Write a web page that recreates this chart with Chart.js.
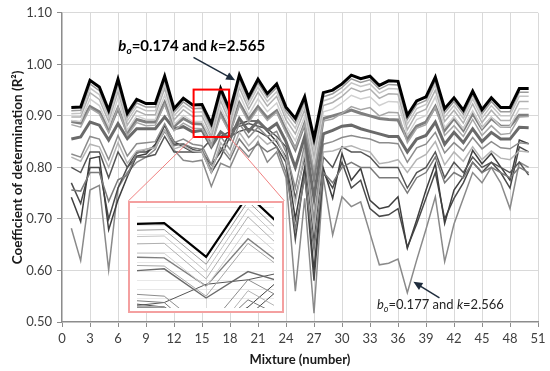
<!DOCTYPE html>
<html><head><meta charset="utf-8">
<script src="https://cdn.jsdelivr.net/npm/chart.js@4.4.0/dist/chart.umd.min.js"></script>
<style>
html,body{margin:0;padding:0;background:#fff;}
#wrap{position:relative;width:550px;height:371px;overflow:hidden;}
#main{position:absolute;left:0;top:0;}
#insetBox{position:absolute;background:#fff;}
#insetBox canvas{position:absolute;left:0;top:0;}
</style></head><body>
<div id="wrap"><canvas id="main" width="550" height="371"></canvas><div id="insetBox"><canvas id="inset"></canvas></div></div>
<script>
// ---------- DATA ----------
const mixtures = [1,2,3,4,5,6,7,8,9,10,11,12,13,14,15,16,17,18,19,20,21,22,23,24,25,26,27,28,29,30,31,32,33,34,35,36,37,38,39,40,41,42,43,44,45,46,47,48,49,50];
const xTicks = [0,3,6,9,12,15,18,21,24,27,30,33,36,39,42,45,48,51];
const yTicks = [0.50,0.60,0.70,0.80,0.90,1.00,1.10];

const best = [0.916,0.917,0.969,0.956,0.911,0.971,0.905,0.932,0.924,0.924,0.977,0.914,0.934,0.921,0.922,0.885,0.953,0.910,0.979,0.937,0.971,0.943,0.962,0.917,0.895,0.937,0.856,0.945,0.950,0.962,0.979,0.972,0.977,0.959,0.968,0.967,0.901,0.929,0.937,0.975,0.914,0.935,0.911,0.948,0.912,0.935,0.916,0.916,0.953,0.953];
const s1 = [0.910,0.911,0.962,0.949,0.904,0.964,0.898,0.925,0.917,0.917,0.970,0.907,0.927,0.914,0.915,0.877,0.946,0.902,0.972,0.930,0.964,0.936,0.955,0.909,0.886,0.929,0.846,0.937,0.943,0.955,0.972,0.965,0.970,0.952,0.961,0.960,0.893,0.922,0.930,0.968,0.906,0.928,0.903,0.941,0.904,0.928,0.908,0.908,0.946,0.946];
const s2 = [0.904,0.905,0.954,0.941,0.897,0.956,0.890,0.918,0.910,0.910,0.962,0.900,0.920,0.907,0.908,0.869,0.938,0.894,0.964,0.922,0.956,0.928,0.947,0.901,0.876,0.921,0.835,0.929,0.935,0.947,0.964,0.957,0.962,0.944,0.953,0.952,0.884,0.914,0.922,0.960,0.898,0.920,0.895,0.933,0.896,0.920,0.900,0.900,0.938,0.938];
const s3 = [0.898,0.898,0.945,0.932,0.889,0.947,0.882,0.910,0.902,0.902,0.953,0.892,0.912,0.899,0.900,0.861,0.929,0.886,0.955,0.913,0.946,0.919,0.938,0.892,0.865,0.912,0.822,0.920,0.926,0.938,0.954,0.947,0.952,0.934,0.943,0.942,0.873,0.905,0.913,0.950,0.889,0.911,0.886,0.923,0.887,0.911,0.891,0.891,0.928,0.928];
const s4 = [0.891,0.889,0.933,0.920,0.879,0.934,0.872,0.900,0.893,0.893,0.940,0.883,0.901,0.889,0.889,0.852,0.917,0.877,0.942,0.902,0.933,0.908,0.925,0.881,0.852,0.900,0.810,0.908,0.913,0.925,0.940,0.933,0.937,0.920,0.928,0.927,0.862,0.893,0.901,0.937,0.877,0.898,0.875,0.910,0.876,0.898,0.879,0.880,0.914,0.914];
const s5 = [0.883,0.878,0.915,0.904,0.867,0.917,0.862,0.887,0.881,0.882,0.922,0.871,0.886,0.876,0.875,0.842,0.900,0.866,0.922,0.887,0.914,0.891,0.907,0.867,0.838,0.884,0.795,0.890,0.894,0.905,0.918,0.912,0.916,0.900,0.907,0.906,0.848,0.876,0.883,0.917,0.862,0.881,0.860,0.893,0.862,0.881,0.864,0.866,0.898,0.899];
const thickD = [0.889,0.886,0.918,0.908,0.872,0.915,0.868,0.893,0.888,0.888,0.926,0.880,0.895,0.885,0.884,0.853,0.905,0.870,0.925,0.893,0.918,0.896,0.910,0.872,0.835,0.885,0.780,0.895,0.900,0.905,0.911,0.905,0.900,0.895,0.893,0.892,0.855,0.880,0.888,0.918,0.872,0.895,0.872,0.905,0.875,0.895,0.880,0.880,0.901,0.901];
const thickE = [0.855,0.859,0.888,0.882,0.853,0.885,0.856,0.875,0.875,0.875,0.898,0.875,0.879,0.869,0.872,0.840,0.869,0.855,0.895,0.870,0.890,0.872,0.885,0.850,0.800,0.860,0.740,0.865,0.872,0.880,0.882,0.875,0.870,0.865,0.860,0.860,0.830,0.855,0.862,0.888,0.845,0.868,0.848,0.875,0.850,0.868,0.855,0.855,0.878,0.877];
const s6 = [0.826,0.820,0.860,0.855,0.815,0.862,0.822,0.846,0.848,0.850,0.885,0.848,0.855,0.845,0.842,0.805,0.860,0.835,0.885,0.858,0.878,0.860,0.870,0.830,0.760,0.845,0.700,0.845,0.850,0.858,0.862,0.858,0.855,0.848,0.848,0.846,0.810,0.838,0.845,0.868,0.828,0.848,0.832,0.858,0.836,0.850,0.838,0.836,0.848,0.846];
const s7 = [0.820,0.812,0.845,0.840,0.800,0.848,0.808,0.832,0.835,0.838,0.872,0.836,0.842,0.832,0.830,0.790,0.848,0.822,0.868,0.842,0.862,0.845,0.855,0.815,0.730,0.830,0.680,0.830,0.832,0.838,0.842,0.835,0.830,0.807,0.810,0.815,0.790,0.815,0.825,0.850,0.805,0.830,0.812,0.840,0.815,0.832,0.818,0.815,0.832,0.830];
const low1 = [0.756,0.754,0.790,0.790,0.734,0.776,0.785,0.827,0.835,0.840,0.872,0.842,0.846,0.838,0.835,0.795,0.838,0.815,0.855,0.832,0.845,0.830,0.840,0.790,0.680,0.780,0.640,0.790,0.770,0.800,0.810,0.800,0.800,0.780,0.780,0.780,0.750,0.780,0.790,0.820,0.770,0.790,0.780,0.810,0.790,0.800,0.790,0.780,0.800,0.790];
const low2 = [0.742,0.695,0.817,0.821,0.679,0.737,0.782,0.822,0.826,0.845,0.882,0.850,0.840,0.830,0.830,0.805,0.830,0.870,0.885,0.890,0.890,0.870,0.850,0.820,0.700,0.800,0.600,0.798,0.740,0.827,0.775,0.798,0.736,0.720,0.724,0.743,0.643,0.698,0.756,0.807,0.691,0.756,0.782,0.833,0.807,0.827,0.801,0.775,0.853,0.846];
const low3 = [0.682,0.619,0.756,0.765,0.601,0.760,0.790,0.810,0.820,0.835,0.882,0.834,0.814,0.811,0.814,0.763,0.808,0.800,0.840,0.820,0.850,0.810,0.830,0.780,0.560,0.740,0.517,0.780,0.669,0.743,0.724,0.733,0.672,0.611,0.614,0.622,0.557,0.620,0.680,0.743,0.617,0.690,0.740,0.790,0.770,0.800,0.770,0.720,0.810,0.800];
const low4 = [0.800,0.790,0.830,0.830,0.780,0.830,0.800,0.820,0.820,0.825,0.860,0.830,0.830,0.830,0.835,0.855,0.860,0.870,0.880,0.885,0.880,0.875,0.860,0.840,0.740,0.820,0.660,0.820,0.800,0.840,0.830,0.830,0.820,0.800,0.800,0.800,0.760,0.790,0.800,0.830,0.780,0.810,0.790,0.820,0.800,0.810,0.800,0.790,0.810,0.785];
const low5 = [0.770,0.730,0.800,0.800,0.700,0.760,0.800,0.830,0.830,0.840,0.870,0.845,0.845,0.835,0.830,0.790,0.820,0.860,0.870,0.875,0.870,0.860,0.840,0.810,0.660,0.790,0.580,0.790,0.760,0.810,0.760,0.775,0.720,0.705,0.708,0.720,0.645,0.690,0.740,0.790,0.700,0.740,0.770,0.810,0.790,0.810,0.790,0.760,0.840,0.830];

// ---------- STYLES ----------
const seriesList = [
  {v: best,   c:'#000000', w:3,   iw:2.2},
  {v: s1,     c:'#9a9a9a', w:1.5, iw:1},
  {v: s2,     c:'#c4c4c4', w:1.5, iw:1},
  {v: s3,     c:'#b0b0b0', w:1.5, iw:1},
  {v: s4,     c:'#d0d0d0', w:1.5, iw:1},
  {v: s5,     c:'#a6a6a6', w:1.5, iw:1},
  {v: thickD, c:'#7f7f7f', w:3,   iw:1.4},
  {v: thickE, c:'#6a6a6a', w:3,   iw:1.4},
  {v: s6,     c:'#8c8c8c', w:1.5, iw:1},
  {v: s7,     c:'#b4b4b4', w:1.5, iw:1},
  {v: low1,   c:'#7a7a7a', w:1.5, iw:1},
  {v: low4,   c:'#555555', w:1.5, iw:1},
  {v: low2,   c:'#3f3f3f', w:1.5, iw:1},
  {v: low5,   c:'#4a4a4a', w:1.5, iw:1},
  {v: low3,   c:'#8a8a8a', w:1.5, iw:1}
];

function mkDatasets(inset){
  return seriesList.map(s => ({
    data: s.v.map((y,i)=>({x:mixtures[i], y:y})),
    borderColor: s.c, borderWidth: inset ? s.iw : s.w,
    pointRadius: 0, tension: 0, fill:false
  }));
}

function drawArrow(ctx,x1,y1,x2,y2,col){
  const a = Math.atan2(y2-y1,x2-x1), L=9, W=4;
  ctx.save();
  ctx.strokeStyle=col; ctx.fillStyle=col; ctx.lineWidth=1.5;
  ctx.beginPath(); ctx.moveTo(x1,y1); ctx.lineTo(x2-Math.cos(a)*L*0.8,y2-Math.sin(a)*L*0.8); ctx.stroke();
  ctx.beginPath(); ctx.moveTo(x2,y2);
  ctx.lineTo(x2-L*Math.cos(a)+W*Math.sin(a), y2-L*Math.sin(a)-W*Math.cos(a));
  ctx.lineTo(x2-L*Math.cos(a)-W*Math.sin(a), y2-L*Math.sin(a)+W*Math.cos(a));
  ctx.closePath(); ctx.fill();
  ctx.restore();
}

function drawLabel(ctx,cx,cy,parts,color){
  ctx.save();
  ctx.fillStyle=color; ctx.textBaseline='alphabetic';
  let total=0;
  parts.forEach(p=>{ctx.font=p.f; total+=ctx.measureText(p.t).width;});
  let x=cx-total/2;
  parts.forEach(p=>{ctx.font=p.f; ctx.fillText(p.t,x,cy+(p.dy||0)); x+=ctx.measureText(p.t).width;});
  ctx.restore();
}

// annotation anchors (data coordinates)
const boxX = [14.1, 17.9], boxY = [0.951, 0.859];
const insetX = [7.1, 23.83], insetY = [0.7348, 0.518];

const annotPlugin = {
  id:'annot',
  afterDraw(chart){
    const ctx=chart.ctx, X=chart.scales.x, Y=chart.scales.y;
    const px=v=>X.getPixelForValue(v), py=v=>Y.getPixelForValue(v);
    ctx.save();
    ctx.strokeStyle='#ff0000'; ctx.lineWidth=2;
    ctx.strokeRect(px(boxX[0]),py(boxY[0]),px(boxX[1])-px(boxX[0]),py(boxY[1])-py(boxY[0]));
    ctx.strokeStyle='#f08080'; ctx.lineWidth=1;
    ctx.beginPath();
    ctx.moveTo(px(boxX[0]),py(boxY[1])); ctx.lineTo(px(insetX[0]),py(insetY[0]));
    ctx.moveTo(px(boxX[1]),py(boxY[1])); ctx.lineTo(px(insetX[1]),py(insetY[0]));
    ctx.stroke();
    ctx.restore();
    const B='bold 15px Lato', BI='italic bold 15px Lato', BS='bold 10px Lato';
    drawLabel(ctx,px(13.9),py(1.0348)+5,[{t:'b',f:BI},{t:'o',f:'italic '+BS,dy:3},{t:'=0.174 and ',f:B},{t:'k',f:BI},{t:'=2.565',f:B}],'#000');
    drawArrow(ctx,px(14.09),py(1.0135),px(18.55),py(0.969),'#1f2d3d');
    const N='13px Lato', NI='italic 13px Lato', NS='italic 9px Lato';
    drawLabel(ctx,px(40.54),py(0.535)+5,[{t:'b',f:NI},{t:'o',f:NS,dy:3},{t:'=0.177 and ',f:N},{t:'k',f:NI},{t:'=2.566',f:N}],'#262626');
    drawArrow(ctx,px(40.44),py(0.547),px(37.65),py(0.578),'#1f2d3d');
  }
};

const main = new Chart(document.getElementById('main'),{
  type:'line',
  data:{datasets: mkDatasets(false)},
  plugins:[annotPlugin],
  options:{
    responsive:false, animation:false,
    layout:{padding:{top:12,right:12,left:0,bottom:0}},
    plugins:{legend:{display:false},tooltip:{enabled:false}},
    scales:{
      x:{type:'linear',min:0,max:51,
        afterBuildTicks(s){s.ticks=xTicks.map(v=>({value:v}));},
        afterFit(s){s.height=49;},
        grid:{color:'#d9d9d9',tickColor:'#8c8c8c',tickLength:5},
        border:{color:'#8c8c8c',width:1.3},
        ticks:{color:'#404040',font:{family:'Lato',size:13},padding:4,maxRotation:0},
        title:{display:true,text:'Mixture (number)',color:'#1a1a1a',font:{family:'Lato',size:13,weight:'bold'},padding:{top:0,bottom:3}}
      },
      y:{type:'linear',min:0.5,max:1.1,
        afterBuildTicks(s){s.ticks=yTicks.map(v=>({value:v}));},
        afterFit(s){s.width=62;},
        grid:{color:'#d9d9d9',tickColor:'#8c8c8c',tickLength:5},
        border:{color:'#8c8c8c',width:1.3},
        ticks:{color:'#404040',font:{family:'Lato',size:13},padding:5,callback:v=>Number(v).toFixed(2)},
        title:{display:true,text:'Coefficient of determination (R²)',color:'#1a1a1a',font:{family:'Lato',size:13.5,weight:'bold'},padding:{top:10,bottom:0}}
      }
    }
  }
});

// ---------- INSET ----------
const X=main.scales.x, Y=main.scales.y;
const L=Math.round(X.getPixelForValue(insetX[0])), R=Math.round(X.getPixelForValue(insetX[1]));
const T=Math.round(Y.getPixelForValue(insetY[0])), Bt=Math.round(Y.getPixelForValue(insetY[1]));
const box=document.getElementById('insetBox');
box.style.left=L+'px'; box.style.top=T+'px'; box.style.width=(R-L)+'px'; box.style.height=(Bt-T)+'px';
const ic=document.getElementById('inset'); ic.width=R-L; ic.height=Bt-T;

const insetGridY=[0.84,0.85,0.86,0.87,0.88,0.89,0.90,0.91,0.92,0.93,0.94];
const insetGridX=[16];
const insetPlugin={
  id:'insetDeco',
  beforeDatasetsDraw(chart){
    const ctx=chart.ctx, a=chart.chartArea, xs=chart.scales.x, ys=chart.scales.y;
    ctx.save(); ctx.strokeStyle='#e8e8e8'; ctx.lineWidth=1;
    insetGridY.forEach(v=>{const y=Math.round(ys.getPixelForValue(v))+0.5; ctx.beginPath(); ctx.moveTo(a.left,y); ctx.lineTo(a.right,y); ctx.stroke();});
    ctx.strokeStyle='#dcdcdc';
    insetGridX.forEach(v=>{const x=Math.round(xs.getPixelForValue(v))+0.5; ctx.beginPath(); ctx.moveTo(x,a.top); ctx.lineTo(x,a.bottom); ctx.stroke();});
    ctx.restore();
  },
  afterDraw(chart){
    const ctx=chart.ctx;
    ctx.save(); ctx.strokeStyle='#f4a0a0'; ctx.lineWidth=2;
    ctx.strokeRect(1,1,chart.width-2,chart.height-2); ctx.restore();
  }
};
new Chart(ic,{
  type:'line',
  data:{datasets: mkDatasets(true)},
  plugins:[insetPlugin],
  options:{
    responsive:false, animation:false,
    layout:{padding:{left:9,right:10,top:4,bottom:5}},
    plugins:{legend:{display:false},tooltip:{enabled:false}},
    scales:{
      x:{type:'linear',min:14.35,max:17.62,display:false},
      y:{type:'linear',min:0.829,max:0.942,display:false}
    }
  }
});
</script>
</body></html>
